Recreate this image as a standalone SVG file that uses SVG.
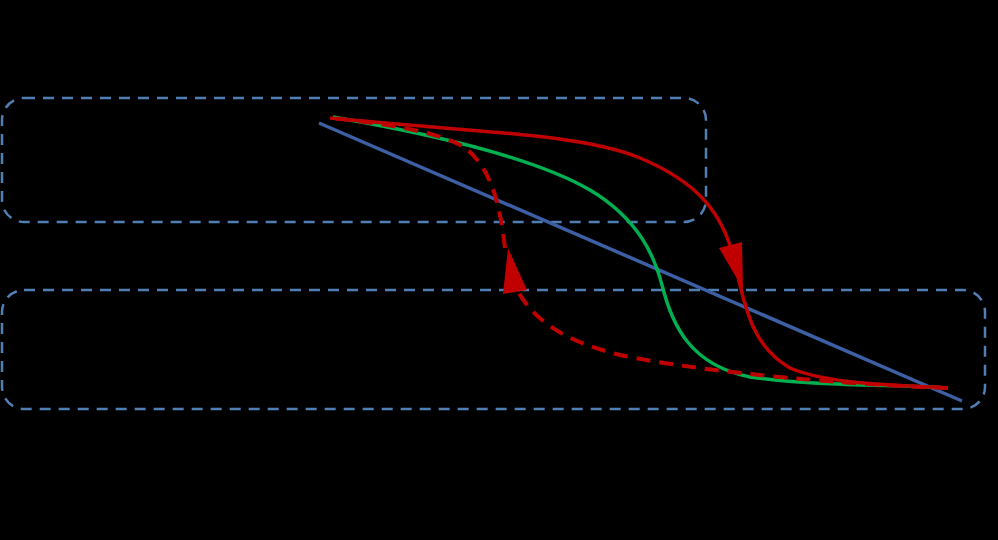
<svg xmlns="http://www.w3.org/2000/svg" width="998" height="540" viewBox="0 0 998 540">
<style>
.box{fill:none;stroke:#4f7fb3;stroke-width:2.5;stroke-dasharray:11 8}
.blue{fill:none;stroke:#3d5fa3;stroke-width:3.5}
.green{fill:none;stroke:#00b050;stroke-width:3.5}
.red{fill:none;stroke:#c00000;stroke-width:3.5}
.reddash{fill:none;stroke:#c00000;stroke-width:4;stroke-dasharray:14 9}
.head{fill:#c00000}
</style>
<rect width="998" height="540" fill="#000"/>
<g id="region-top">
<rect class="box" x="2" y="98" width="704" height="124" rx="22"/>
</g>
<g id="region-bottom">
<rect class="box" x="2" y="290" width="983" height="119" rx="22"/>
</g>
<g id="connectors">
<path class="blue" d="M319,123 L962,401"/>
<path class="green" d="M333,117 C420,132 530,155 590,190 C640,220 655,258 662,285 C672,325 690,365 750,377 C820,387 900,384 948,388"/>
<path class="red" d="M330,118 C470,132 580,133 640,158 C700,183 722,215 733,255 C745,305 750,345 790,368 C830,385 900,385 948,388"/>
<polygon class="head" points="743,289 719,248 742,242"/>
<path class="reddash" d="M948,388 C850,385 700,372 620,355 C560,340 532,318 516,288"/>
<path class="reddash" d="M505,248 C500,205 492,172 468,150 C446,133 390,124 330,118"/>
<polygon class="head" points="508,248 503,294 527,290"/>
</g>
</svg>
